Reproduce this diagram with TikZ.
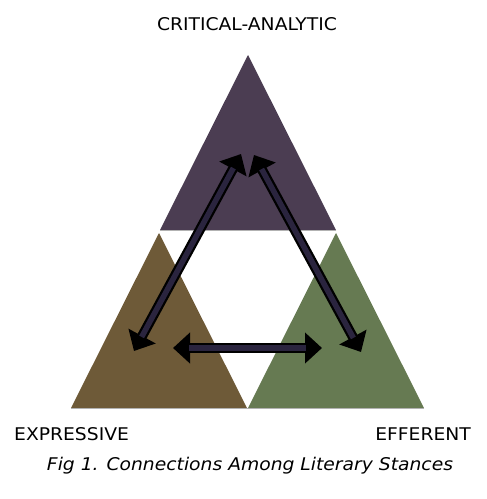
\documentclass[tikz,border=0pt]{standalone}
\usepackage{fontspec}
\setmainfont{DejaVu Sans}[FakeStretch=1.07]
\usetikzlibrary{arrows.meta}
\definecolor{critcol}{RGB}{75,61,82}
\definecolor{exprcol}{RGB}{110,90,56}
\definecolor{effcol}{RGB}{102,122,82}
\definecolor{shaftcol}{RGB}{42,36,62}
\tikzset{
  stance/.style={draw=gray!60, line width=0.6pt, line join=round},
  link/.style={black, line width=10pt, {Triangle[length=17pt,width=30pt]}-{Triangle[length=17pt,width=30pt]}},
  linkcore/.style={shaftcol, line width=5.5pt, shorten <=16pt, shorten >=16pt},
  lbl/.style={font=\fontsize{17.5}{20}\selectfont, inner sep=0pt}
}
\begin{document}
\begin{tikzpicture}[x=1pt,y=-1pt]
      \useasboundingbox (0,0) rectangle (487,499);
      \def\w{176}
      \def\h{175}
      \coordinate (C) at (248,55);
      \coordinate (E) at (159,233);
      \coordinate (F) at (336,233);
      \fill[critcol] (C) -- ++(-\w/2,\h) -- ++(\w,0) -- cycle;
      \fill[exprcol] (E) -- ++(-\w/2,\h) -- ++(\w,0) -- cycle;
      \fill[effcol] (F) -- ++(-\w/2,\h) -- ++(\w,0) -- cycle;
      \draw[stance] (160,230.5) -- (336,230.5) (71,408.5) -- (424,408.5);
      \node[lbl, anchor=base] (critical) at (247,30) {CRITICAL-ANALYTIC};
      \node[lbl, anchor=base west] (expressive) at (14,440) {EXPRESSIVE};
      \node[lbl, anchor=base east] (efferent) at (471,440) {EFFERENT};
      \node[lbl, anchor=base] (caption) at (250,470) {\itshape Fig 1. Connections Among Literary Stances};
      % arrows between the stances
      \coordinate (e1) at (134,351);
      \coordinate (c1) at (241,154);
      \coordinate (c2) at (254,155);
      \coordinate (f1) at (361,352);
      \coordinate (e2) at (173,348);
      \coordinate (f2) at (322,348);
      \foreach \a/\b in {e1/c1, c2/f1, e2/f2}{
        \draw[link] (\a) -- (\b);
        \draw[linkcore] (\a) -- (\b);
      }
\end{tikzpicture}
\end{document}
